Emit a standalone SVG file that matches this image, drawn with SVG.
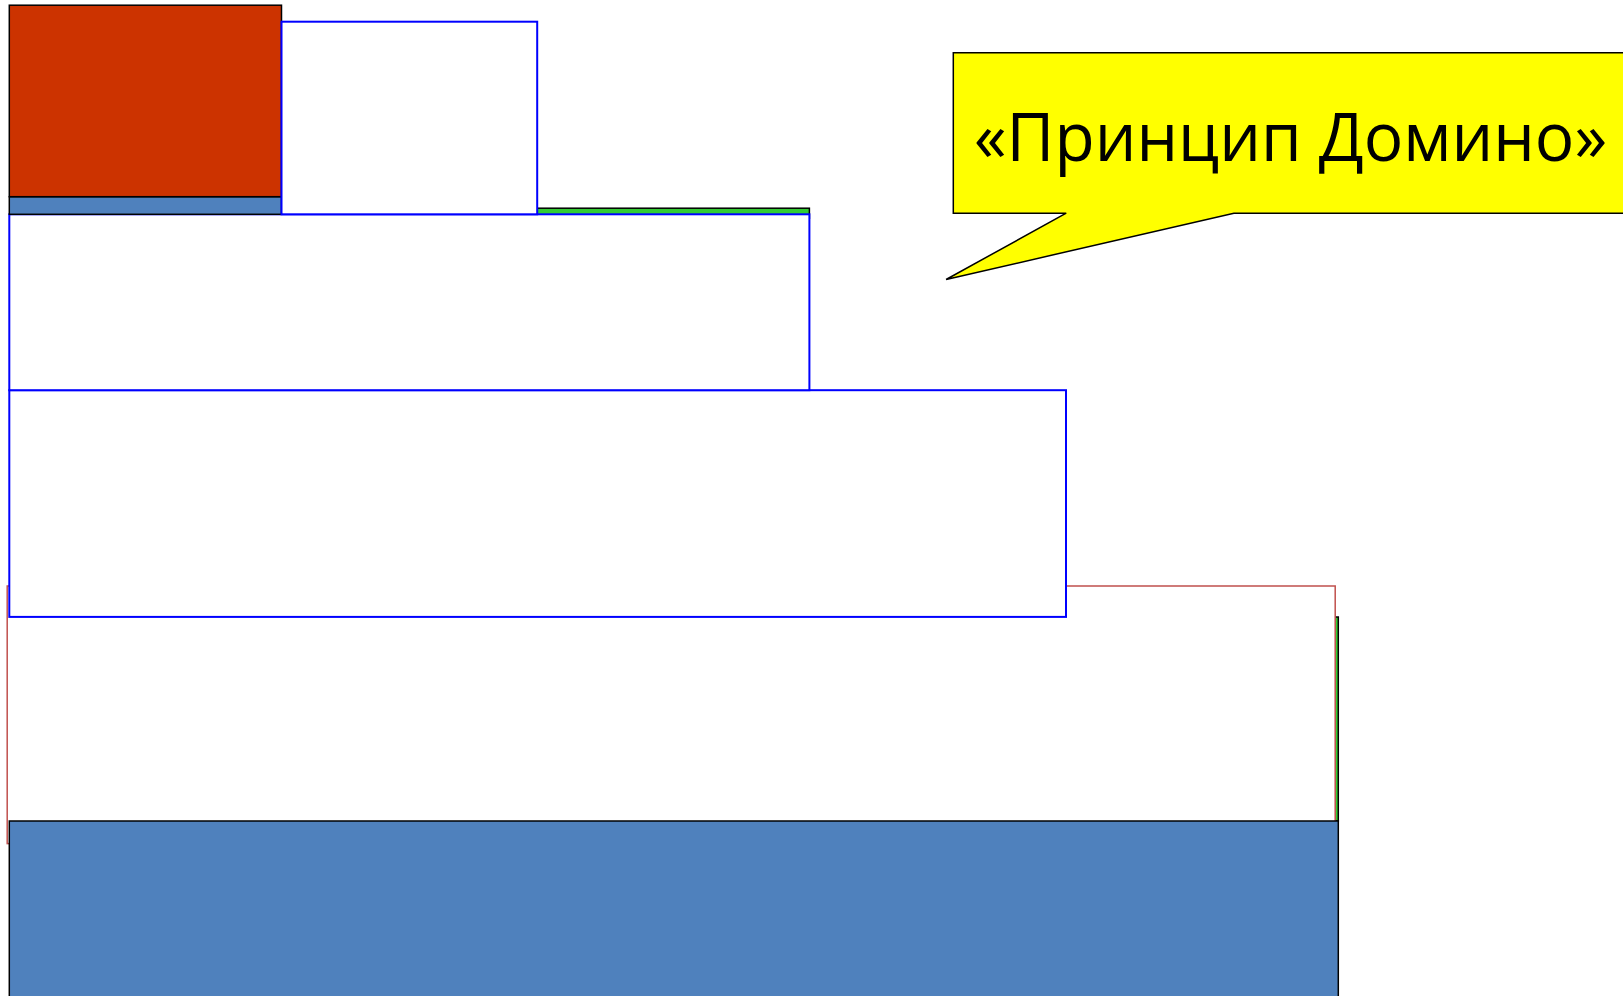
<svg xmlns="http://www.w3.org/2000/svg" width="1623" height="996" viewBox="0 0 1623 996">
<style>
.blk{stroke:#000;stroke-width:1.5}
.bb{fill:#fff;stroke:#0000ff;stroke-width:2}
.blue{fill:#4f81bd}
.green{fill:#33cc33}
.red{fill:#cc3300}
.rb{fill:#fff;stroke:#c0504d;stroke-width:1.5}
.lbl{font-family:"Open Sans","Noto Sans","Liberation Sans",sans-serif;font-size:67px;fill:#000}
</style>
<rect width="1623" height="996" fill="#fff"/>
<g id="back-green"><rect class="green blk" x="9.3" y="617" width="1329" height="204"/></g>
<g id="red-box"><rect class="rb" x="7.2" y="586" width="1328" height="257.6"/></g>
<g id="base"><rect class="blue blk" x="9.3" y="821" width="1329" height="190"/></g>
<g id="box3"><rect class="bb" x="9.3" y="390.2" width="1056.7" height="226.7"/></g>
<g id="green-strip"><rect class="green blk" x="537" y="208.2" width="272.4" height="10"/></g>
<g id="box2"><rect class="bb" x="9.3" y="214.3" width="800.1" height="175.9"/></g>
<g id="blue-strip"><rect class="blue blk" x="9.3" y="196.7" width="272.2" height="17.6"/></g>
<g id="red-block"><rect class="red blk" x="9.3" y="5.2" width="272.2" height="191.5"/></g>
<g id="box1"><rect class="bb" x="281.5" y="21.7" width="255.7" height="192.6"/></g>
<g id="callout">
<path d="M953.3,52.8 L1630,52.8 L1630,213.2 L1233.9,213.2 L946.1,279.5 L1066.2,213.2 L953.3,213.2 Z" fill="#ffff00" stroke="#000" stroke-width="1.5"/>
<text class="lbl" x="974" y="160.5" textLength="633" lengthAdjust="spacingAndGlyphs">«Принцип Домино»</text>
</g>
</svg>
